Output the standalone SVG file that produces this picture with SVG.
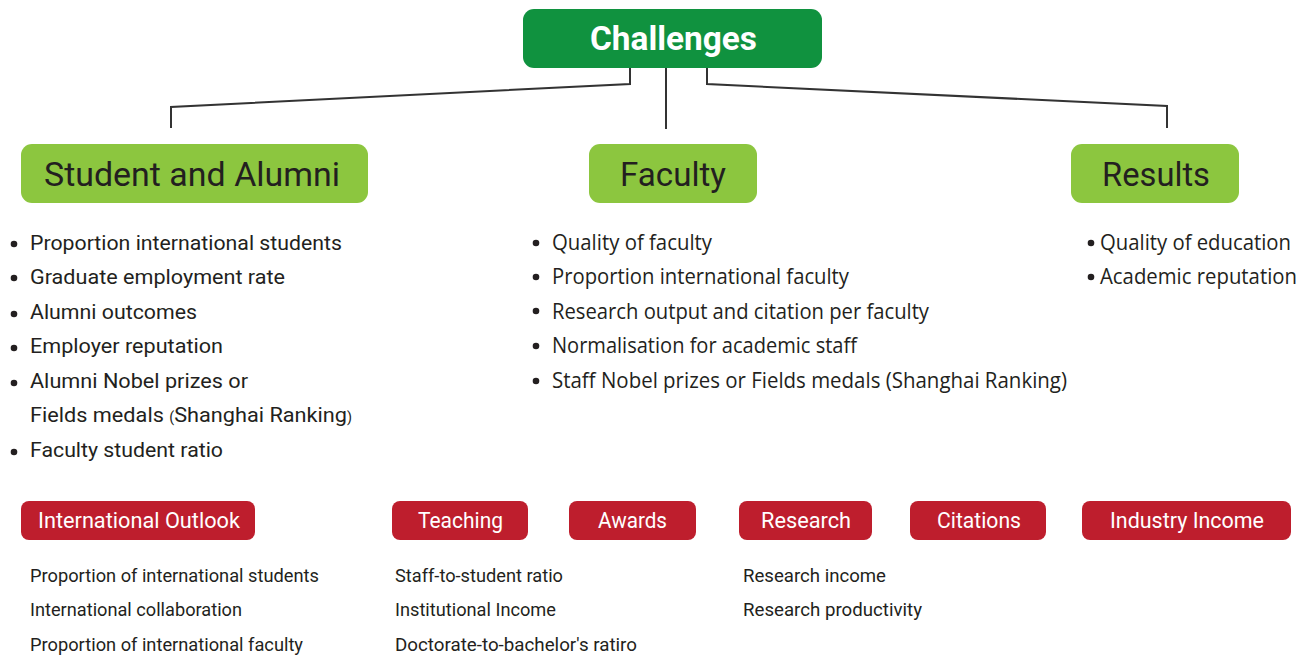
<svg xmlns="http://www.w3.org/2000/svg" width="1310" height="658" viewBox="0 0 1310 658">
<style>
.top{fill:#10923f}
.cat{fill:#8cc63f}
.tag{fill:#be1e2d}
.ttop{font-family:Roboto,"Liberation Sans",sans-serif;font-weight:bold;font-size:33px;fill:#fff}
.tcat{font-family:Roboto,"Liberation Sans",sans-serif;font-size:33px;fill:#231f20}
.li{font-family:Roboto,"Liberation Sans",sans-serif;font-size:21px;fill:#231f20}
.lo{font-family:"Open Sans","Liberation Sans",sans-serif;font-size:21px;fill:#231f20}
.ttag{font-family:Roboto,"Liberation Sans",sans-serif;font-size:22px;fill:#fff}
.sm{font-family:Roboto,"Liberation Sans",sans-serif;font-size:19px;fill:#231f20}
.dot{fill:#231f20}
.conn{fill:none;stroke:#333;stroke-width:2}
</style>
<rect width="1310" height="658" fill="#fff"/>
<g id="connectors">
<polyline class="conn" points="630,64 630,84 171,107 171,128"/>
<line class="conn" x1="666" y1="68" x2="666" y2="129"/>
<polyline class="conn" points="707,64 707,84 1167,106 1167,128"/>
</g>
<g id="challenges">
<rect class="top" x="523" y="9" width="299" height="59" rx="11"/>
<text class="ttop" x="590" y="50" textLength="167" lengthAdjust="spacingAndGlyphs">Challenges</text>
</g>
<g id="student-alumni">
<rect class="cat" x="21" y="144" width="347" height="59" rx="11"/>
<text class="tcat" x="44" y="186" textLength="296" lengthAdjust="spacingAndGlyphs">Student and Alumni</text>
</g>
<g id="faculty">
<rect class="cat" x="589" y="144" width="168" height="59" rx="11"/>
<text class="tcat" x="620" y="186" textLength="106" lengthAdjust="spacingAndGlyphs">Faculty</text>
</g>
<g id="results">
<rect class="cat" x="1071" y="144" width="168" height="59" rx="11"/>
<text class="tcat" x="1102" y="186" textLength="108" lengthAdjust="spacingAndGlyphs">Results</text>
</g>
<g id="student-list">
<circle class="dot" cx="14" cy="244" r="3.3"/>
<text class="li" x="30" y="250" textLength="312" lengthAdjust="spacingAndGlyphs">Proportion international students</text>
<circle class="dot" cx="14" cy="278" r="3.3"/>
<text class="li" x="30" y="284" textLength="255" lengthAdjust="spacingAndGlyphs">Graduate employment rate</text>
<circle class="dot" cx="14" cy="314" r="3.3"/>
<text class="li" x="30" y="319" textLength="167" lengthAdjust="spacingAndGlyphs">Alumni outcomes</text>
<circle class="dot" cx="14" cy="348" r="3.3"/>
<text class="li" x="30" y="353" textLength="193" lengthAdjust="spacingAndGlyphs">Employer reputation</text>
<circle class="dot" cx="14" cy="383" r="3.3"/>
<text class="li" x="30" y="388" textLength="218" lengthAdjust="spacingAndGlyphs">Alumni Nobel prizes or</text>
<text class="li" x="30" y="422" textLength="322" lengthAdjust="spacingAndGlyphs">Fields medals <tspan font-size="14">(</tspan>Shanghai Ranking<tspan font-size="14">)</tspan></text>
<circle class="dot" cx="14" cy="452" r="3.3"/>
<text class="li" x="30" y="457" textLength="193" lengthAdjust="spacingAndGlyphs">Faculty student ratio</text>
</g>
<g id="faculty-list">
<circle class="dot" cx="536" cy="243" r="3.3"/>
<text class="lo" x="552" y="250" textLength="160" lengthAdjust="spacingAndGlyphs">Quality of faculty</text>
<circle class="dot" cx="536" cy="277" r="3.3"/>
<text class="lo" x="552" y="284" textLength="297" lengthAdjust="spacingAndGlyphs">Proportion international faculty</text>
<circle class="dot" cx="536" cy="311" r="3.3"/>
<text class="lo" x="552" y="319" textLength="377" lengthAdjust="spacingAndGlyphs">Research output and citation per faculty</text>
<circle class="dot" cx="536" cy="346" r="3.3"/>
<text class="lo" x="552" y="353" textLength="305" lengthAdjust="spacingAndGlyphs">Normalisation for academic staff</text>
<circle class="dot" cx="536" cy="381" r="3.3"/>
<text class="lo" x="552" y="388" textLength="515" lengthAdjust="spacingAndGlyphs">Staff Nobel prizes or Fields medals (Shanghai Ranking)</text>
</g>
<g id="results-list">
<circle class="dot" cx="1091" cy="243" r="3.3"/>
<text class="lo" x="1100" y="250" textLength="191" lengthAdjust="spacingAndGlyphs">Quality of education</text>
<circle class="dot" cx="1091" cy="277" r="3.3"/>
<text class="lo" x="1100" y="284" textLength="197" lengthAdjust="spacingAndGlyphs">Academic reputation</text>
</g>
<g id="international-outlook">
<rect class="tag" x="21" y="501" width="234" height="39" rx="8"/>
<text class="ttag" x="38" y="528" textLength="202" lengthAdjust="spacingAndGlyphs">International Outlook</text>
</g>
<g id="teaching">
<rect class="tag" x="392" y="501" width="136" height="39" rx="8"/>
<text class="ttag" x="418" y="528" textLength="85" lengthAdjust="spacingAndGlyphs">Teaching</text>
</g>
<g id="awards">
<rect class="tag" x="569" y="501" width="127" height="39" rx="8"/>
<text class="ttag" x="598" y="528" textLength="69" lengthAdjust="spacingAndGlyphs">Awards</text>
</g>
<g id="research">
<rect class="tag" x="739" y="501" width="133" height="39" rx="8"/>
<text class="ttag" x="761" y="528" textLength="90" lengthAdjust="spacingAndGlyphs">Research</text>
</g>
<g id="citations">
<rect class="tag" x="910" y="501" width="136" height="39" rx="8"/>
<text class="ttag" x="937" y="528" textLength="84" lengthAdjust="spacingAndGlyphs">Citations</text>
</g>
<g id="industry-income">
<rect class="tag" x="1082" y="501" width="209" height="39" rx="8"/>
<text class="ttag" x="1110" y="528" textLength="154" lengthAdjust="spacingAndGlyphs">Industry Income</text>
</g>
<g id="international-list">
<text class="sm" x="30" y="582" textLength="289" lengthAdjust="spacingAndGlyphs">Proportion of international students</text>
<text class="sm" x="30" y="616" textLength="212" lengthAdjust="spacingAndGlyphs">International collaboration</text>
<text class="sm" x="30" y="651" textLength="273" lengthAdjust="spacingAndGlyphs">Proportion of international faculty</text>
</g>
<g id="teaching-list">
<text class="sm" x="395" y="582" textLength="168" lengthAdjust="spacingAndGlyphs">Staff-to-student ratio</text>
<text class="sm" x="395" y="616" textLength="161" lengthAdjust="spacingAndGlyphs">Institutional Income</text>
<text class="sm" x="395" y="651" textLength="242" lengthAdjust="spacingAndGlyphs">Doctorate-to-bachelor's ratiro</text>
</g>
<g id="research-list">
<text class="sm" x="743" y="582" textLength="143" lengthAdjust="spacingAndGlyphs">Research income</text>
<text class="sm" x="743" y="616" textLength="179" lengthAdjust="spacingAndGlyphs">Research productivity</text>
</g>
</svg>
